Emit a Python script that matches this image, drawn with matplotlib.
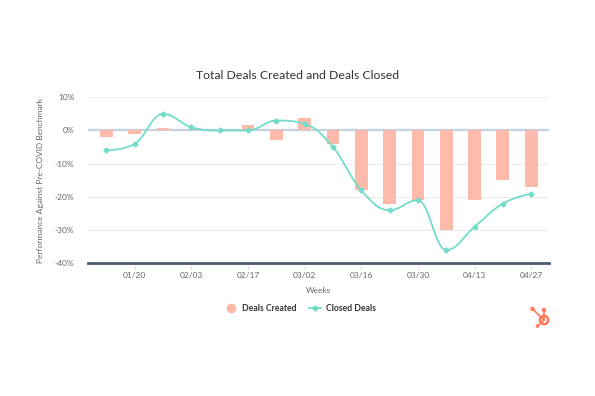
import numpy as np
import matplotlib
matplotlib.use("Agg")
import matplotlib.pyplot as plt
from matplotlib.path import Path
from matplotlib.patches import PathPatch, Circle
from matplotlib.lines import Line2D

plt.rcParams['font.family'] = ['Lato', 'DejaVu Sans']

# weekly data, 01/13 .. 04/27
weeks = ['01/13', '01/20', '01/27', '02/03', '02/10', '02/17', '02/24', '03/02',
         '03/09', '03/16', '03/23', '03/30', '04/06', '04/13', '04/20', '04/27']
deals_created = [-2, -1, 0.7, 0, 0, 1.7, -3, 3.7, -4, -18, -22, -21, -30, -21, -15, -17]
closed_deals = [-6, -4, 5, 1, 0, 0, 3, 2, -5, -18, -24, -21, -36, -29, -22, -19]
tick_labels = ['01/20', '02/03', '02/17', '03/02', '03/16', '03/30', '04/13', '04/27']
y_ticks = [10, 0, -10, -20, -30, -40]

BAR = '#fdb9aa'
LINE = '#72dcc9'
TXT = '#666666'


def spline_path(xs, ys, smoothing=1.5):
    # highcharts-like spline through the points
    n = len(xs)
    denom = smoothing + 1
    lc = [None] * n
    rc = [None] * n
    for i in range(1, n - 1):
        px, py = xs[i], ys[i]
        lx, ly = xs[i - 1], ys[i - 1]
        nx, ny = xs[i + 1], ys[i + 1]
        lcx = (smoothing * px + lx) / denom
        lcy = (smoothing * py + ly) / denom
        rcx = (smoothing * px + nx) / denom
        rcy = (smoothing * py + ny) / denom
        corr = (rcy - lcy) * (rcx - px) / (rcx - lcx) + py - rcy
        lcy += corr
        rcy += corr
        if lcy > ly and lcy > py:
            lcy = max(ly, py)
            rcy = 2 * py - lcy
        elif lcy < ly and lcy < py:
            lcy = min(ly, py)
            rcy = 2 * py - lcy
        if rcy > ny and rcy > py:
            rcy = max(ny, py)
            lcy = 2 * py - rcy
        elif rcy < ny and rcy < py:
            rcy = min(ny, py)
            lcy = 2 * py - rcy
        lc[i] = (lcx, lcy)
        rc[i] = (rcx, rcy)
    verts = [(xs[0], ys[0])]
    codes = [Path.MOVETO]
    for i in range(1, n):
        c1 = rc[i - 1] if rc[i - 1] else (xs[i - 1], ys[i - 1])
        c2 = lc[i] if lc[i] else (xs[i], ys[i])
        verts += [c1, c2, (xs[i], ys[i])]
        codes += [Path.CURVE4] * 3
    return Path(verts, codes)


fig = plt.figure(figsize=(5.95, 3.96), dpi=100)
ax = fig.add_axes([0.1484, 0.3351, 0.7748, 0.4192])

x = np.arange(len(weeks))
ax.set_xlim(-0.64, len(weeks) - 1 + 0.64)
ax.set_ylim(-40, 10)

for v in y_ticks:
    if v == 0:
        ax.axhline(v, color='#c5d0e3', lw=1.6, zorder=1)
    elif v == -40:
        pass
    else:
        ax.axhline(v, color='#ececec', lw=0.8, zorder=0)

ax.bar(x, deals_created, width=0.45, color=BAR, zorder=2)

ax.add_patch(PathPatch(spline_path(list(x), closed_deals), fill=False,
                       edgecolor=LINE, lw=1.3, zorder=3))
ax.plot(x, closed_deals, ls='none', marker='D', ms=2.6, color=LINE, zorder=4)

for s in ['top', 'right', 'left']:
    ax.spines[s].set_visible(False)
ax.spines['bottom'].set_color('#4a5a6e')
ax.spines['bottom'].set_linewidth(2)

ax.set_yticks(y_ticks)
ax.set_yticklabels([f'{v}%' for v in y_ticks])
ax.tick_params(axis='y', length=0, pad=10, labelsize=6, labelcolor=TXT)
ax.set_xticks([weeks.index(t) for t in tick_labels])
ax.set_xticklabels(tick_labels)
ax.tick_params(axis='x', length=4, width=0.6, color='#ccd6eb', pad=2,
               labelsize=6, labelcolor=TXT)

ax.set_ylabel('Performance Against Pre-COVID Benchmark', fontsize=6,
              color=TXT, labelpad=8)
ax.set_xlabel('Weeks', fontsize=6, color=TXT, labelpad=6)

fig.text(0.5, 0.81, 'Total Deals Created and Deals Closed', ha='center',
         va='center', fontsize=8.8, color='#333333')

handles = [Line2D([], [], ls='none', marker='o', ms=6, color=BAR),
           Line2D([], [], color=LINE, lw=1.3, marker='D', ms=2.6)]
fig.legend(handles, ['Deals Created', 'Closed Deals'], loc='center',
           bbox_to_anchor=(0.505, 0.22), ncol=2, frameon=False,
           prop={'size': 6.2, 'weight': 'bold'}, labelcolor='#333333',
           handlelength=1.4, handletextpad=0.5, columnspacing=1.5)

# hubspot sprocket
orange = '#ff7a59'
lg = fig.add_axes([0, 0, 1, 1], facecolor='none')
lg.set_xlim(0, 595)
lg.set_ylim(396, 0)
lg.axis('off')
cx, cy = 544, 320
lg.add_patch(Circle((cx, cy), 4.2, fill=False, lw=1.8, ec=orange))
for ex, ey, r in [(544, 310, 1.5), (532.5, 309, 1.5), (537.5, 326, 1.2)]:
    lg.plot([cx, ex], [cy, ey], color=orange, lw=1.2)
    lg.add_patch(Circle((ex, ey), r, color=orange))

fig.savefig('out.png', dpi=100)
